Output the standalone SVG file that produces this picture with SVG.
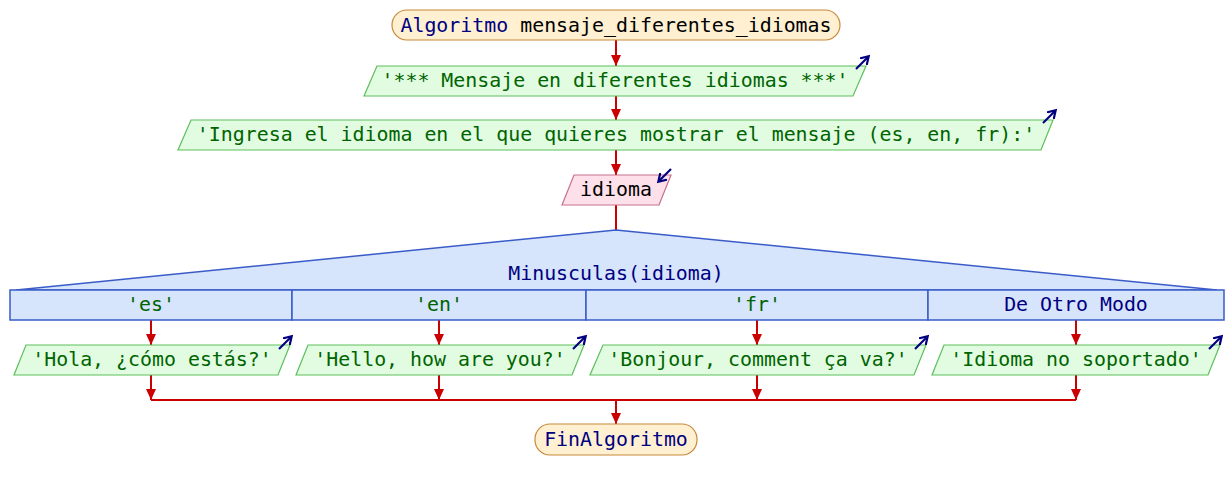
<svg xmlns="http://www.w3.org/2000/svg" width="1232" height="490" viewBox="0 0 1232 490">
  <defs>
    <style>
      text { font-family: "DejaVu Sans Mono", "Liberation Mono", monospace; font-size: 19.9px; text-anchor: middle; }
      .kw { fill: #000080; }
      .var { fill: #000000; }
      .str { fill: #006400; }
      .term { fill: #fff0d2; stroke: #c8883a; stroke-width: 1.2; }
      .out { fill: #e2fce2; stroke: #5cbf5c; stroke-width: 1.2; }
      .in { fill: #fde0ea; stroke: #c8708c; stroke-width: 1.2; }
      .sw { fill: #d6e4fc; stroke: #3a5cc8; stroke-width: 1.5; }
      .flow { stroke: #cc0000; stroke-width: 2; fill: none; }
      .io { stroke: #000080; stroke-width: 2.2; fill: none; }
    </style>
    <marker id="ah" markerWidth="12" markerHeight="10" refX="11" refY="5" orient="auto" markerUnits="userSpaceOnUse">
      <path d="M0,0 L11,5 L0,10 Z" fill="#cc0000"/>
    </marker>
    <marker id="ioh" markerWidth="10" markerHeight="10" refX="7" refY="5" orient="auto" markerUnits="userSpaceOnUse">
      <path d="M0,0 L8,5 L0,10" fill="none" stroke="#000080" stroke-width="2.2"/>
    </marker>
  </defs>

  <!-- connectors -->
  <g id="connectors">
    <line class="flow" x1="616" y1="40" x2="616" y2="66" marker-end="url(#ah)"/>
    <line class="flow" x1="616" y1="96" x2="616" y2="120" marker-end="url(#ah)"/>
    <line class="flow" x1="616" y1="150" x2="616" y2="175" marker-end="url(#ah)"/>
    <line class="flow" x1="616" y1="205" x2="616" y2="230"/>
    <line class="flow" x1="151" y1="320" x2="151" y2="345" marker-end="url(#ah)"/>
    <line class="flow" x1="439" y1="320" x2="439" y2="345" marker-end="url(#ah)"/>
    <line class="flow" x1="757" y1="320" x2="757" y2="345" marker-end="url(#ah)"/>
    <line class="flow" x1="1076" y1="320" x2="1076" y2="345" marker-end="url(#ah)"/>
    <line class="flow" x1="151" y1="375" x2="151" y2="400" marker-end="url(#ah)"/>
    <line class="flow" x1="439" y1="375" x2="439" y2="400" marker-end="url(#ah)"/>
    <line class="flow" x1="757" y1="375" x2="757" y2="400" marker-end="url(#ah)"/>
    <line class="flow" x1="1076" y1="375" x2="1076" y2="400" marker-end="url(#ah)"/>
    <line class="flow" x1="151" y1="400" x2="1076" y2="400"/>
    <line class="flow" x1="616" y1="400" x2="616" y2="424" marker-end="url(#ah)"/>
  </g>

  <!-- start -->
  <g id="start">
    <rect class="term" x="392" y="10" width="448" height="30" rx="15" ry="15"/>
    <text x="616" y="32"><tspan class="kw">Algoritmo</tspan><tspan class="var"> mensaje_diferentes_idiomas</tspan></text>
  </g>

  <!-- title message -->
  <g id="out-title">
    <polygon class="out" points="377,66 866,66 853,96 364,96"/>
    <text class="str" x="615" y="87">'*** Mensaje en diferentes idiomas ***'</text>
    <line class="io" x1="856" y1="69" x2="868" y2="57" marker-end="url(#ioh)"/>
  </g>

  <!-- prompt -->
  <g id="out-prompt">
    <polygon class="out" points="191,120 1053,120 1041,150 178,150"/>
    <text class="str" x="616" y="141">'Ingresa el idioma en el que quieres mostrar el mensaje (es, en, fr):'</text>
    <line class="io" x1="1043" y1="123" x2="1055" y2="111" marker-end="url(#ioh)"/>
  </g>

  <!-- read idioma -->
  <g id="in-idioma">
    <polygon class="in" points="574,175 671,175 659,205 562,205"/>
    <text class="var" x="616" y="196">idioma</text>
    <line class="io" x1="671" y1="169" x2="659" y2="181" marker-end="url(#ioh)"/>
  </g>

  <!-- switch -->
  <g id="switch">
    <polygon class="sw" points="616,230 1217,290 16,290"/>
    <text class="kw" x="616" y="280">Minusculas(idioma)</text>
    <rect class="sw" x="10" y="290" width="282" height="30"/>
    <rect class="sw" x="292" y="290" width="294" height="30"/>
    <rect class="sw" x="586" y="290" width="342" height="30"/>
    <rect class="sw" x="928" y="290" width="296" height="30"/>
    <text class="str" x="151" y="311">'es'</text>
    <text class="str" x="439" y="311">'en'</text>
    <text class="str" x="757" y="311">'fr'</text>
    <text class="kw" x="1076" y="311">De Otro Modo</text>
  </g>

  <!-- case outputs -->
  <g id="out-es">
    <polygon class="out" points="26,345 290,345 278,375 14,375"/>
    <text class="str" x="152" y="366">'Hola, ¿cómo estás?'</text>
    <line class="io" x1="279" y1="349" x2="291" y2="337" marker-end="url(#ioh)"/>
  </g>
  <g id="out-en">
    <polygon class="out" points="308,345 584,345 572,375 296,375"/>
    <text class="str" x="440" y="366">'Hello, how are you?'</text>
    <line class="io" x1="573" y1="349" x2="585" y2="337" marker-end="url(#ioh)"/>
  </g>
  <g id="out-fr">
    <polygon class="out" points="603,345 926,345 914,375 590,375"/>
    <text class="str" x="758" y="366">'Bonjour, comment ça va?'</text>
    <line class="io" x1="915" y1="349" x2="927" y2="337" marker-end="url(#ioh)"/>
  </g>
  <g id="out-other">
    <polygon class="out" points="944,345 1220,345 1208,375 932,375"/>
    <text class="str" x="1076" y="366">'Idioma no soportado'</text>
    <line class="io" x1="1209" y1="349" x2="1221" y2="337" marker-end="url(#ioh)"/>
  </g>

  <!-- end -->
  <g id="end">
    <rect class="term" x="535" y="424" width="162" height="31" rx="15" ry="15"/>
    <text class="kw" x="616" y="446">FinAlgoritmo</text>
  </g>
</svg>
